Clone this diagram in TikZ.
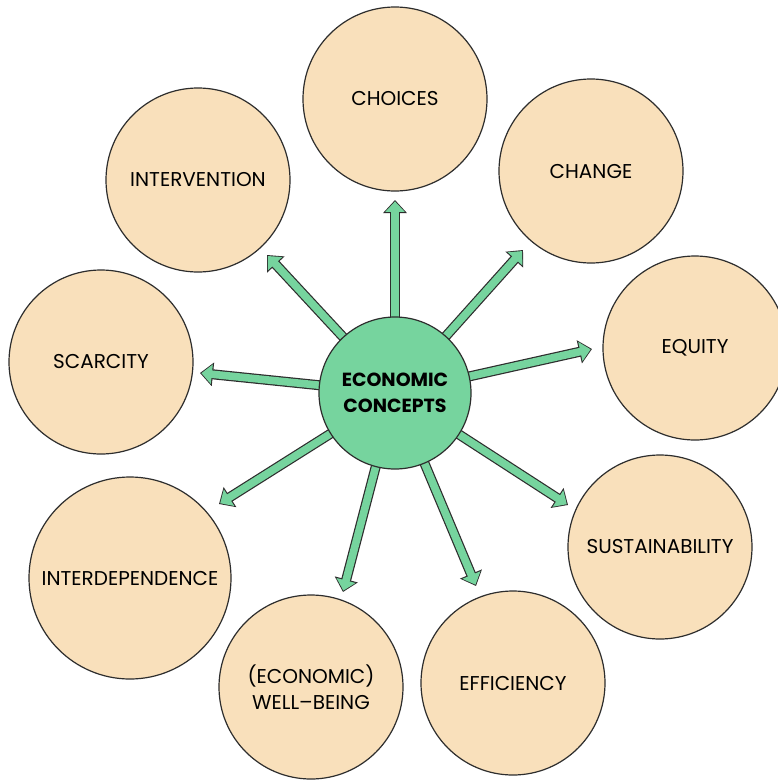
\documentclass[tikz,border=0pt]{standalone}
\usepackage{fontspec}
\setmainfont{Poppins}
\usetikzlibrary{arrows.meta,backgrounds}
\definecolor{peach}{RGB}{249,224,187}
\definecolor{hubgreen}{RGB}{118,212,158}
\definecolor{linegray}{RGB}{45,45,45}
\tikzset{concept/.style={circle, draw=linegray, fill=peach, line width=1.2pt, minimum size=184pt, inner sep=0pt, align=center, font=\fontsize{20}{26}\selectfont},
hub/.style={circle, draw=linegray, fill=hubgreen, line width=1.2pt, minimum size=152pt, inner sep=0pt, align=center, font=\fontsize{19}{26}\selectfont\bfseries},
spoke/.style={draw=hubgreen, line width=7.6pt, shorten >=1.4pt, -{Triangle[length=10.5pt,width=19pt]},
preaction={draw=linegray, line width=10pt, shorten >=0pt, -{Triangle[length=13pt,width=23pt]}}}}

\begin{document}
\begin{tikzpicture}[x=1pt,y=-1pt]
\clip (0,0) rectangle (778,780);
\node[hub] (hub) at (395,393) {ECONOMIC\\CONCEPTS};
% outer concepts
\node[concept] (choices) at (395,99) {CHOICES};
\node[concept] (change) at (591,171) {CHANGE};
\node[concept] (equity) at (695,348) {EQUITY};
\node[concept] (sust) at (660,547) {SUSTAINABILITY};
\node[concept] (effic) at (513,683) {EFFICIENCY};
\node[concept] (wellbeing) at (311,687) {(ECONOMIC)\\WELL--BEING};
\node[concept, minimum size=202pt] (interdep) at (130,578) {INTERDEPENDENCE};
\node[concept] (scarcity) at (101,362) {SCARCITY};
\node[concept] (interv) at (198,180) {INTERVENTION};
% arrow tips
\coordinate (tchoices) at (395,200);
\coordinate (tchange) at (523,250);
\coordinate (tequity) at (592,349);
\coordinate (tsust) at (568,505);
\coordinate (teffic) at (476,586);
\coordinate (twellbeing) at (343,592);
\coordinate (tinterdep) at (219,504);
\coordinate (tscarcity) at (200,373);
\coordinate (tinterv) at (267,255);
\begin{scope}[on background layer]
\fill[white] (0,0) rectangle (778,780);
\foreach \t in {choices,change,equity,sust,effic,wellbeing,interdep,scarcity,interv}
  \draw[spoke] (hub.center) -- (t\t);
\end{scope}
\end{tikzpicture}
\end{document}
